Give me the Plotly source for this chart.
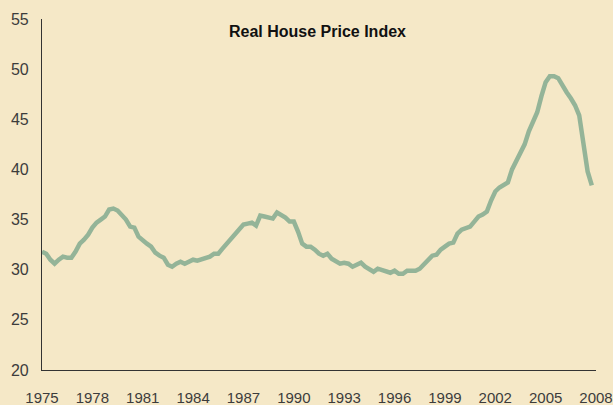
import plotly.graph_objects as go

# Quarterly real house price index, 1975Q1 - 2007Q4
years = list(range(1975, 2008))
values_by_year = [
    [31.8, 31.6, 31.0, 30.6],  # 1975
    [31.0, 31.3, 31.2, 31.2],  # 1976
    [31.8, 32.6, 33.0, 33.5],  # 1977
    [34.2, 34.7, 35.0, 35.3],  # 1978
    [36.0, 36.1, 35.9, 35.5],  # 1979
    [35.0, 34.3, 34.2, 33.3],  # 1980
    [32.9, 32.6, 32.3, 31.7],  # 1981
    [31.4, 31.2, 30.5, 30.3],  # 1982
    [30.6, 30.8, 30.6, 30.8],  # 1983
    [31.0, 30.9, 31.0, 31.1],  # 1984
    [31.3, 31.6, 31.6, 32.1],  # 1985
    [32.6, 33.1, 33.6, 34.0],  # 1986
    [34.5, 34.6, 34.7, 34.4],  # 1987
    [35.4, 35.3, 35.2, 35.1],  # 1988
    [35.7, 35.5, 35.2, 34.8],  # 1989
    [34.8, 33.8, 32.6, 32.3],  # 1990
    [32.3, 32.0, 31.6, 31.4],  # 1991
    [31.6, 31.1, 30.8, 30.6],  # 1992
    [30.7, 30.6, 30.3, 30.5],  # 1993
    [30.7, 30.3, 30.0, 29.8],  # 1994
    [30.1, 30.0, 29.8, 29.7],  # 1995
    [29.9, 29.6, 29.6, 29.9],  # 1996
    [29.9, 29.9, 30.1, 30.5],  # 1997
    [31.0, 31.4, 31.5, 32.0],  # 1998
    [32.3, 32.6, 32.7, 33.6],  # 1999
    [34.0, 34.2, 34.3, 34.8],  # 2000
    [35.3, 35.5, 35.8, 36.9],  # 2001
    [37.8, 38.2, 38.4, 38.7],  # 2002
    [40.0, 40.8, 41.5, 42.5],  # 2003
    [43.8, 44.8, 45.7, 47.3],  # 2004
    [48.7, 49.3, 49.3, 49.1],  # 2005
    [48.3, 47.7, 47.1, 46.4],  # 2006
    [45.4, 42.5, 39.8, 38.4],  # 2007
]
quarter_offsets = [0.0, 0.25, 0.5, 0.75]

x_ticks = list(range(1975, 2009, 3))
y_ticks = list(range(20, 56, 5))
title_text = "Real House Price Index"

x = []
y = []
for yr, vals in zip(years, values_by_year):
    for q, v in zip(quarter_offsets, vals):
        x.append(yr + q)
        y.append(v)

bg = "#F5E8C7"

fig = go.Figure()
fig.add_trace(go.Scatter(
    x=x, y=y, mode="lines",
    line=dict(color="#94B498", width=4.5),
    hoverinfo="skip", showlegend=False,
))

fig.update_layout(
    width=613, height=405,
    paper_bgcolor=bg, plot_bgcolor=bg,
    margin=dict(l=42, r=17, t=19, b=35),
    font=dict(family="Liberation Sans, Arial, sans-serif", size=16, color="#3c3c3c"),
    annotations=[dict(
        text="<b>" + title_text + "</b>", x=0.497, xref="paper", yref="y", y=53.8,
        showarrow=False, font=dict(size=16, color="#111111"),
        xanchor="center", yanchor="middle",
    )],
)

fig.update_xaxes(
    range=[1975, 2008], tickvals=x_ticks, ticktext=[str(t) for t in x_ticks],
    showgrid=False, zeroline=False, automargin=False,
    showline=True, linecolor="#333333", linewidth=1.2,
    ticks="outside", ticklen=14, tickcolor=bg,
    tickfont=dict(size=15), ticklabeloverflow="allow",
)
fig.update_yaxes(
    range=[20, 55], tickvals=y_ticks,
    showgrid=False, zeroline=False, automargin=False,
    showline=True, linecolor="#333333", linewidth=1.2,
    ticks="outside", ticklen=9, tickcolor=bg,
)

# remove the default 8px page margin so the 613x405 figure fills the window
fig.write_html(
    "out.html",
    config={"displayModeBar": False},
    post_script="document.body.style.margin='0';document.body.style.overflow='hidden';",
)
